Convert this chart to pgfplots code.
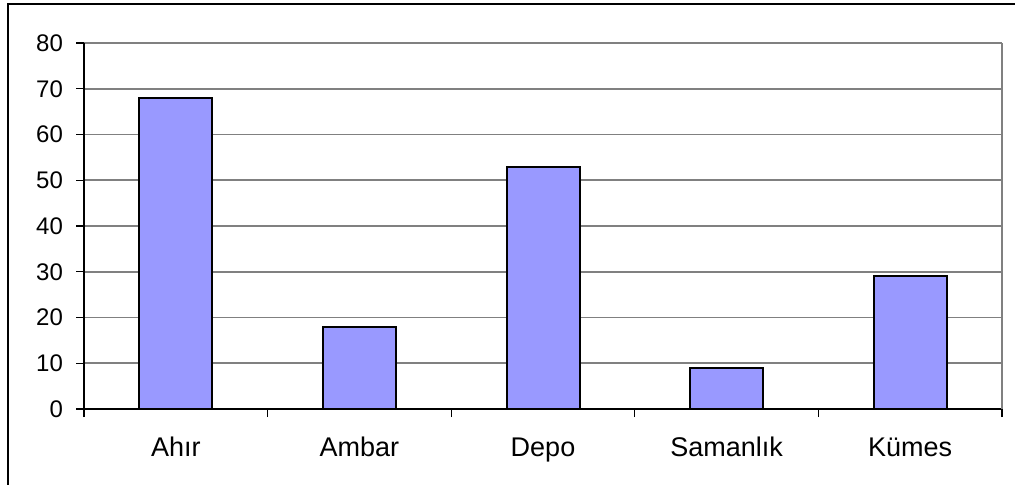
\documentclass[border=0pt]{standalone}
\usepackage{fontspec}
\setmainfont{Liberation Sans}
\usepackage{pgfplots}
\pgfplotsset{compat=1.18}
\definecolor{barblue}{RGB}{153,153,255}
\definecolor{gridgray}{RGB}{128,128,128}
\begin{document}
\begin{tikzpicture}
% 1 px of the reference = 0.5pt
\useasboundingbox (0pt,0pt) rectangle (507.5pt,242pt);
% outer chart frame (cropped at right and bottom)
\draw[black, line width=0.9pt] (4pt,-10pt) -- (4pt,240pt) -- (520pt,240pt);
\begin{axis}[
    at={(42pt,37.5pt)}, anchor=south west,
    scale only axis,
    width=459pt, height=183pt,
    ymin=0, ymax=80,
    ytick={0,10,...,80},
    xmin=0.5, xmax=5.5,
    xtick={1,2,3,4,5},
    xticklabels={Ahır, Ambar, Depo, Samanlık, Kümes},
    minor xtick={0.5,1.5,...,5.5},
    axis x line*=bottom, axis y line*=left,
    axis line style={black, line width=0.75pt, -},
    ymajorgrids,
    grid style={gridgray, line width=0.8pt},
    tick align=outside,
    major tick length=4pt, minor tick length=4pt,
    major x tick style={draw=none},
    tick style={black, line width=0.6pt},
    every tick label/.append style={text=black},
    yticklabel style={font=\fontsize{12}{13}\selectfont, xshift=-3pt},
    xticklabel style={font=\fontsize{13.5}{14}\selectfont, yshift=-6pt,
        text height=10pt, text depth=0pt},
    /pgf/number format/assume math mode=true,
    ybar, bar width=36.5pt,
    clip=false,
]
\addplot[fill=barblue, draw=black, line width=1pt] coordinates {
    (1,68) (2,18) (3,53) (4,9) (5,29)
};
\draw[gridgray, line width=0.8pt] (rel axis cs:1,0) -- (rel axis cs:1,1);
\end{axis}
\end{tikzpicture}
\end{document}
